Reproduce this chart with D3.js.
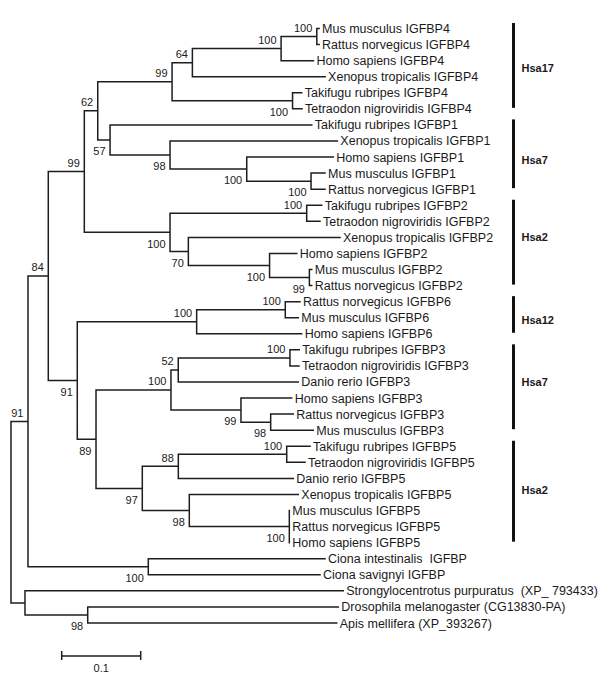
<!DOCTYPE html>
<html><head><meta charset="utf-8">
<script src="https://cdn.jsdelivr.net/npm/d3@7"></script>
<style>
body{margin:0;background:#fff}
svg{display:block;background:#fff}
text{font-family:Arial,"Liberation Sans",Helvetica,sans-serif;fill:#1a1a1a}
</style>
</head><body>
<svg id="chart" width="600" height="677"></svg>
<script>
// ---- DATA ----
const leafNames = [
  "Mus musculus IGFBP4","Rattus norvegicus IGFBP4","Homo sapiens IGFBP4","Xenopus tropicalis IGFBP4",
  "Takifugu rubripes IGFBP4","Tetraodon nigroviridis IGFBP4",
  "Takifugu rubripes IGFBP1","Xenopus tropicalis IGFBP1","Homo sapiens IGFBP1","Mus musculus IGFBP1","Rattus norvegicus IGFBP1",
  "Takifugu rubripes IGFBP2","Tetraodon nigroviridis IGFBP2","Xenopus tropicalis IGFBP2","Homo sapiens IGFBP2","Mus musculus IGFBP2","Rattus norvegicus IGFBP2",
  "Rattus norvegicus IGFBP6","Mus musculus IGFBP6","Homo sapiens IGFBP6",
  "Takifugu rubripes IGFBP3","Tetraodon nigroviridis IGFBP3","Danio rerio IGFBP3","Homo sapiens IGFBP3","Rattus norvegicus IGFBP3","Mus musculus IGFBP3",
  "Takifugu rubripes IGFBP5","Tetraodon nigroviridis IGFBP5","Danio rerio IGFBP5","Xenopus tropicalis IGFBP5","Mus musculus IGFBP5","Rattus norvegicus IGFBP5","Homo sapiens IGFBP5",
  "Ciona intestinalis  IGFBP","Ciona savignyi IGFBP",
  "Strongylocentrotus purpuratus  (XP_ 793433)","Drosophila melanogaster (CG13830-PA)","Apis mellifera (XP_393267)"
];
// Newick sub-clades: leaf index : branch length, internal label = bootstrap
const cladeBP4 = "((((0:0.0029,1:0.0029)100:0.0452,2:0.0409)100:0.1123,3:0.1680)64:0.0257,(4:0.0116,5:0.0120)100:0.1525)99:0.0941";
const cladeBP1 = "(6:0.2553,(7:0.2118,(8:0.1096,(9:0.0177,10:0.0177)100:0.0814)100:0.0971)98:0.0759)57:0.0156";
const cladeBP2 = "((11:0.0190,12:0.0168)100:0.1730,(13:0.1920,(14:0.0344,(15:0.0030,16:0.0030)99:0.0504)100:0.1028)70:0.0232)100:0.1085";
const cladeBP6 = "((17:0.0186,18:0.0165)100:0.1122,19:0.1329)100:0.1511";
const cladeBP3 = "(((20:0.0118,21:0.0114)100:0.1414,22:0.1519)52:0.0092,(23:0.0642,(24:0.0286,25:0.0539)98:0.0376)99:0.0886)100:0.0949";
const cladeBP5 = "(((26:0.0295,27:0.0232)100:0.1372,28:0.1456)88:0.0456,(29:0.1380,(30:0.0,31:0.0,32:0.0)100:0.1266)98:0.0595)97:0.0586";
const cladeCiona = "(33:0.2237,34:0.2173)100:0.1523";
const cladeOut = "(35:0.4029,(36:0.3172,37:0.3152)98:0.0794):0.0177";
const treeNewick = `(((((${cladeBP4},${cladeBP1})62:0.0170,${cladeBP2})99:0.0456,(${cladeBP6},(${cladeBP3},${cladeBP5})89:0.0237)91:0.0367)84:0.0257,${cladeCiona})91:0.0215,${cladeOut});`;

const groupNames = ["Hsa17","Hsa7","Hsa2","Hsa12","Hsa7","Hsa2"];
const groupFirstLeaf = [0,6,11,17,20,26];
const groupLastLeaf = [5,10,16,19,25,32];
const groupLabelRow = [2.45,8.2,12.95,18.15,22,28.7];
const scaleBarValue = 0.1;
const scaleBarLabel = "0.1";

// ---- PARSER ----
function parseNewick(s){
  let i = 0;
  function node(){
    const n = {children:null, name:"", length:0};
    if (s[i] === "("){
      i++; n.children = [node()];
      while (s[i] === ","){ i++; n.children.push(node()); }
      i++;
    }
    let name = "";
    while (i < s.length && !",():;".includes(s[i])) name += s[i++];
    n.name = name.trim();
    if (s[i] === ":"){
      i++; let num = "";
      while (i < s.length && !",();".includes(s[i])) num += s[i++];
      n.length = +num;
    }
    return n;
  }
  return node();
}

// ---- LAYOUT ----
const svg = d3.select("#chart");
const root = d3.hierarchy(parseNewick(treeNewick), d => d.children);
root.eachBefore(d => { d.dist = d.parent ? d.parent.dist + d.data.length : 0; });
const xs = d3.scaleLinear().domain([0, 1]).range([11, 801]);
const ys = d3.scaleLinear().domain([0, leafNames.length - 1]).range([28.5, 623]);
root.eachAfter(d => {
  d.px = xs(d.dist);
  if (!d.children) d.py = ys(+d.data.name);
  else d.py = (d.children[0].py + d.children[d.children.length - 1].py) / 2;
});

const g = svg.append("g");
let path = "";
root.each(d => {
  if (d.parent) path += `M${d.parent.px},${d.py}H${d.px}`;
  if (d.children) path += `M${d.px},${d.children[0].py}V${d.children[d.children.length-1].py}`;
});
g.append("path").attr("d", path).attr("fill", "none").attr("stroke", "#1e1e1e")
  .attr("stroke-width", 1.5).attr("stroke-linecap", "square");

// leaf labels
g.selectAll("text.leaf").data(root.leaves()).join("text")
  .attr("class", "leaf")
  .attr("x", d => d.px + 3)
  .attr("y", d => d.py)
  .attr("dy", "0.36em")
  .style("font-size", "12.5px")
  .style("white-space", "pre")
  .text(d => leafNames[+d.data.name]);

// bootstrap labels
const internals = root.descendants().filter(d => d.children && d.parent && d.data.name);
g.selectAll("text.boot").data(internals).join("text")
  .attr("class", "boot")
  .attr("x", d => d.px - 4.5)
  .attr("y", d => {
    const sib = d.parent.children;
    const lower = sib.indexOf(d) === sib.length - 1;
    return lower ? d.py + 15.3 : d.py - 4.6;
  })
  .attr("text-anchor", "end")
  .style("font-size", "11px")
  .text(d => d.data.name);

// group bars
const barX = 513.5;
groupNames.forEach((name, k) => {
  g.append("line")
    .attr("x1", barX).attr("x2", barX)
    .attr("y1", ys(groupFirstLeaf[k]) - 5.5)
    .attr("y2", ys(groupLastLeaf[k]) - 1)
    .attr("stroke", "#111").attr("stroke-width", 3);
  g.append("text")
    .attr("x", barX + 8)
    .attr("y", ys(groupLabelRow[k]))
    .attr("dy", "0.36em")
    .style("font-size", "11px").style("font-weight", "bold")
    .text(name);
});

// scale bar
const sbX0 = 61.7, sbY = 656;
const sbLen = xs(scaleBarValue) - xs(0);
const sb = svg.append("g").attr("stroke", "#1e1e1e").attr("stroke-width", 1.5);
sb.append("line").attr("x1", sbX0).attr("x2", sbX0 + sbLen).attr("y1", sbY).attr("y2", sbY);
sb.append("line").attr("x1", sbX0).attr("x2", sbX0).attr("y1", sbY - 5).attr("y2", sbY + 4);
sb.append("line").attr("x1", sbX0 + sbLen).attr("x2", sbX0 + sbLen).attr("y1", sbY - 5).attr("y2", sbY + 4);
svg.append("text").attr("x", sbX0 + sbLen / 2).attr("y", sbY + 15.5)
  .attr("text-anchor", "middle").style("font-size", "11px").text(scaleBarLabel);
</script>
</body></html>
